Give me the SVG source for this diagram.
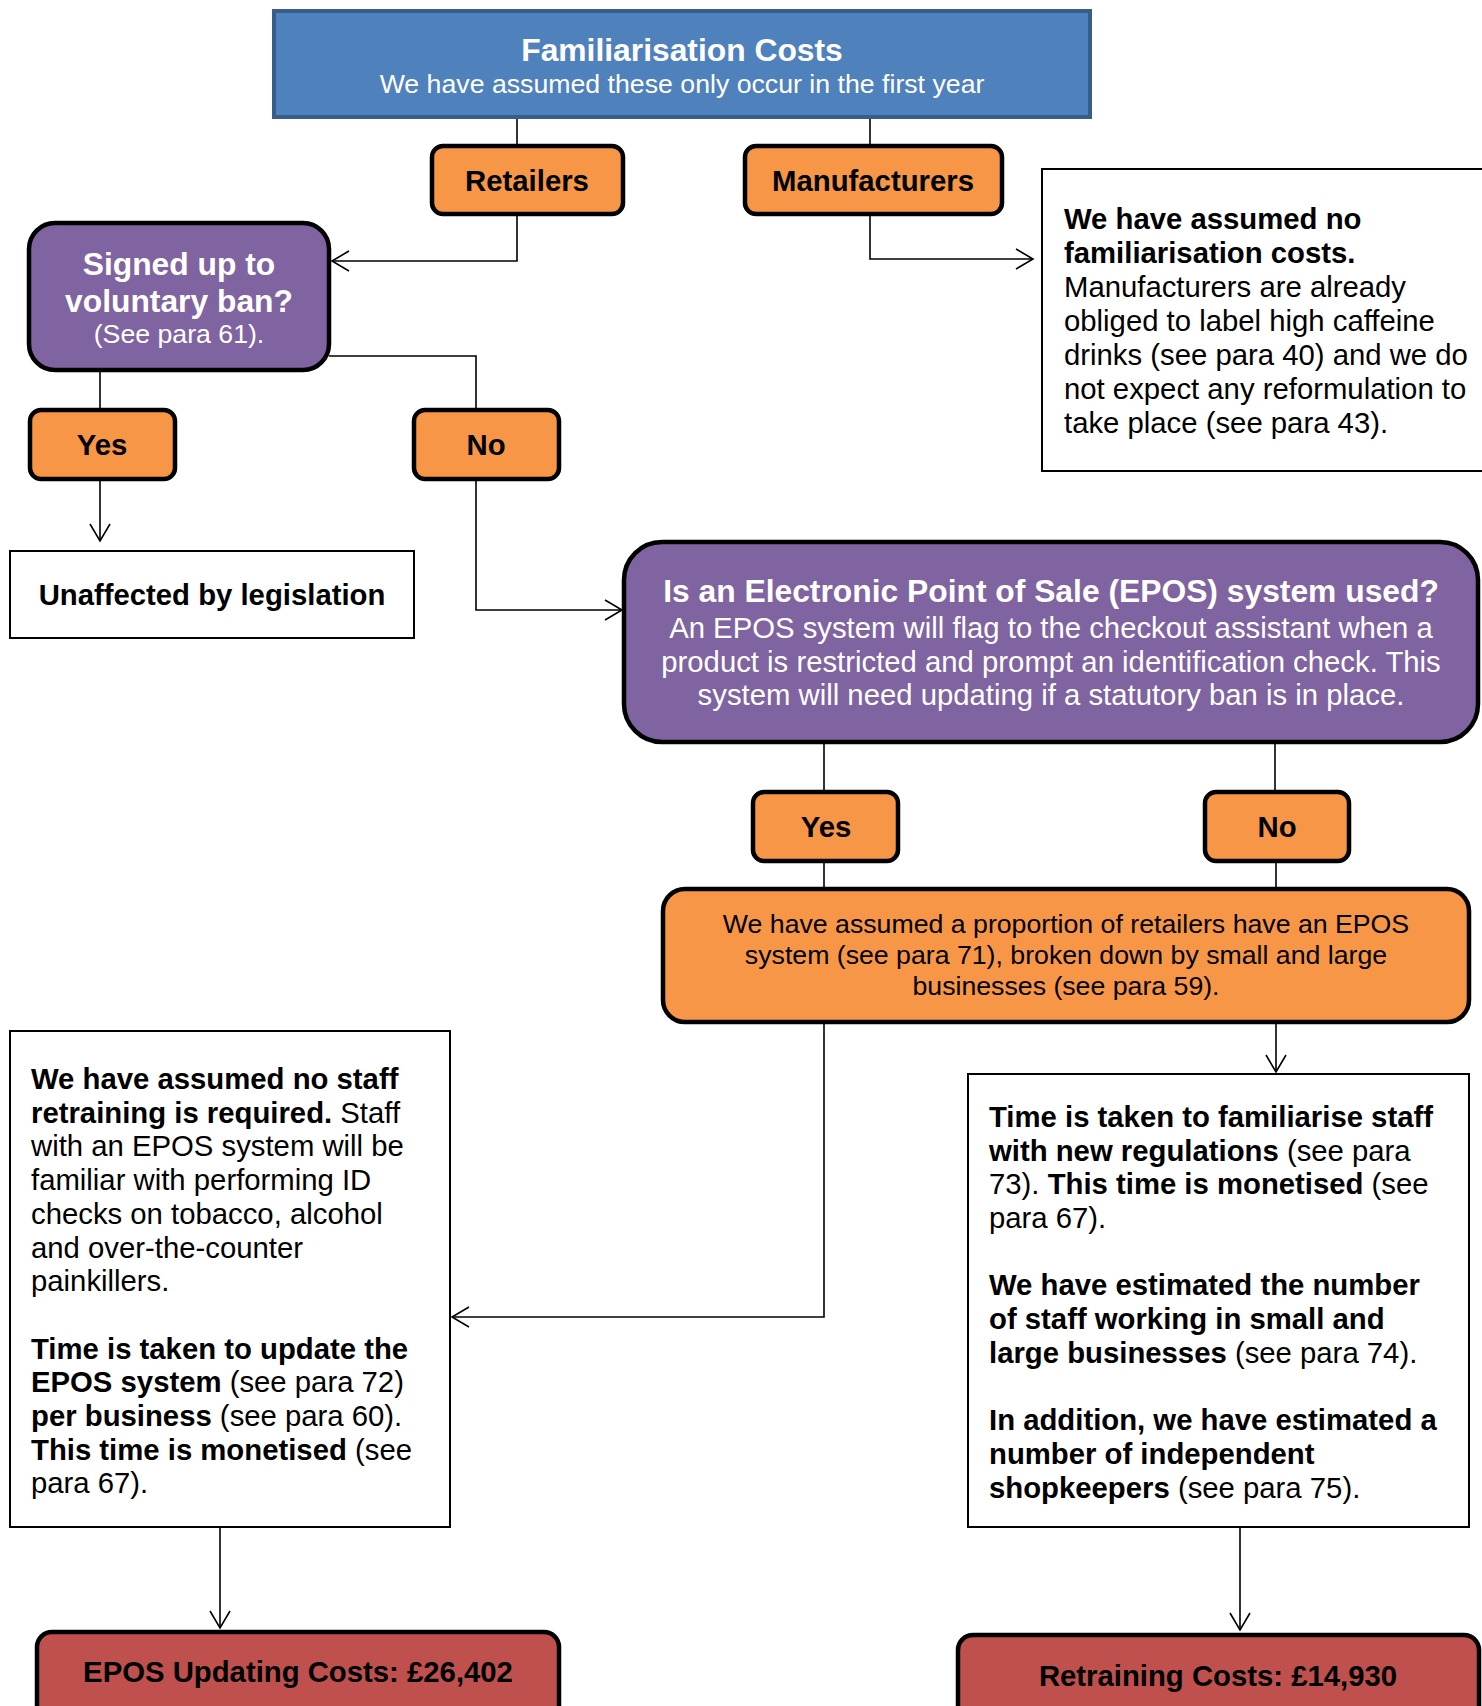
<svg xmlns="http://www.w3.org/2000/svg" width="1482" height="1706" viewBox="0 0 1482 1706">
<defs>
<style>
text{font-family:"Liberation Sans",Arial,sans-serif;fill:#000}
.b{font-weight:bold}
.w{fill:#fff}
.t12{font-size:29.3px}
.t11{font-size:26.7px}
.t13{font-size:31.8px}
.c{text-anchor:middle}
.blue{fill:#4F81BD;stroke:#385D8A;stroke-width:4}
.or{fill:#F79646;stroke:#000;stroke-width:4.5}
.pu{fill:#8064A2;stroke:#000;stroke-width:4.5}
.red{fill:#C0504D;stroke:#000;stroke-width:4.5}
.plain{fill:#fff;stroke:#000;stroke-width:2}
.con{fill:none;stroke:#000;stroke-width:1.6}
</style>
<marker id="arr" markerUnits="userSpaceOnUse" markerWidth="24" markerHeight="24" viewBox="-20 -12 24 24" refX="0" refY="0" orient="auto">
<path d="M-17,-10 L0,0 L-17,10" fill="none" stroke="#000" stroke-width="1.6"/>
</marker>
</defs>
<rect width="1482" height="1706" fill="#fff"/>

<g id="connectors">
<path class="con" d="M517,117 V146"/>
<path class="con" d="M870,117 V146"/>
<path class="con" d="M517,214 V261 H332" marker-end="url(#arr)"/>
<path class="con" d="M870,214 V259 H1033" marker-end="url(#arr)"/>
<path class="con" d="M329,356 H476 V410"/>
<path class="con" d="M100,370 V410"/>
<path class="con" d="M100,479 V541" marker-end="url(#arr)"/>
<path class="con" d="M476,479 V610 H622" marker-end="url(#arr)"/>
<path class="con" d="M824,742 V792"/>
<path class="con" d="M1275,742 V792"/>
<path class="con" d="M824,861 V889"/>
<path class="con" d="M1276,861 V889"/>
<path class="con" d="M824,1022 V1317 H452" marker-end="url(#arr)"/>
<path class="con" d="M1276,1022 V1072" marker-end="url(#arr)"/>
<path class="con" d="M220,1527 V1628" marker-end="url(#arr)"/>
<path class="con" d="M1240,1527 V1630" marker-end="url(#arr)"/>
</g>

<g id="familiarisation">
<rect class="blue" x="274" y="11" width="816" height="106"/>
<text class="t13 b w c" x="682" y="61">Familiarisation Costs</text>
<text class="t11 w c" x="682" y="93">We have assumed these only occur in the first year</text>
</g>

<g id="retailers">
<rect class="or" x="432" y="146" width="191" height="68" rx="11"/>
<text class="t12 b c" x="527" y="191">Retailers</text>
</g>

<g id="manufacturers">
<rect class="or" x="745" y="146" width="257" height="68" rx="11"/>
<text class="t12 b c" x="873" y="191">Manufacturers</text>
</g>

<g id="manufacturers-note">
<rect class="plain" x="1042" y="169" width="450" height="302"/>
<text class="t12" x="1064" y="229"><tspan class="b">We have assumed no</tspan></text>
<text class="t12" x="1064" y="263"><tspan class="b">familiarisation costs.</tspan></text>
<text class="t12" x="1064" y="297">Manufacturers are already</text>
<text class="t12" x="1064" y="331">obliged to label high caffeine</text>
<text class="t12" x="1064" y="365">drinks (see para 40) and we do</text>
<text class="t12" x="1064" y="399">not expect any reformulation to</text>
<text class="t12" x="1064" y="433">take place (see para 43).</text>
</g>

<g id="voluntary-ban">
<rect class="pu" x="29" y="223" width="300" height="147" rx="26"/>
<text class="t13 b w c" x="179" y="275">Signed up to</text>
<text class="t13 b w c" x="179" y="312">voluntary ban?</text>
<text class="t11 w c" x="179" y="343">(See para 61).</text>
</g>

<g id="yes1">
<rect class="or" x="30" y="410" width="145" height="69" rx="11"/>
<text class="t12 b c" x="102" y="455">Yes</text>
</g>

<g id="no1">
<rect class="or" x="414" y="410" width="145" height="69" rx="11"/>
<text class="t12 b c" x="486" y="455">No</text>
</g>

<g id="unaffected">
<rect class="plain" x="10" y="551" width="404" height="87"/>
<text class="t12 b c" x="212" y="605">Unaffected by legislation</text>
</g>

<g id="epos-question">
<rect class="pu" x="624" y="542" width="854" height="200" rx="38"/>
<text class="t13 b w c" x="1051" y="602">Is an Electronic Point of Sale (EPOS) system used?</text>
<text class="t12 w c" x="1051" y="638">An EPOS system will flag to the checkout assistant when a</text>
<text class="t12 w c" x="1051" y="672">product is restricted and prompt an identification check. This</text>
<text class="t12 w c" x="1051" y="705">system will need updating if a statutory ban is in place.</text>
</g>

<g id="yes2">
<rect class="or" x="753" y="792" width="145" height="69" rx="11"/>
<text class="t12 b c" x="826" y="837">Yes</text>
</g>

<g id="no2">
<rect class="or" x="1205" y="792" width="144" height="69" rx="11"/>
<text class="t12 b c" x="1277" y="837">No</text>
</g>

<g id="epos-proportion">
<rect class="or" x="663" y="889" width="806" height="133" rx="22"/>
<text class="t11 c" x="1066" y="933">We have assumed a proportion of retailers have an EPOS</text>
<text class="t11 c" x="1066" y="964">system (see para 71), broken down by small and large</text>
<text class="t11 c" x="1066" y="995">businesses (see para 59).</text>
</g>

<g id="no-retraining">
<rect class="plain" x="10" y="1031" width="440" height="496"/>
<text class="t12" x="31" y="1089"><tspan class="b">We have assumed no staff</tspan></text>
<text class="t12" x="31" y="1123"><tspan class="b">retraining is required.</tspan> Staff</text>
<text class="t12" x="31" y="1156">with an EPOS system will be</text>
<text class="t12" x="31" y="1190">familiar with performing ID</text>
<text class="t12" x="31" y="1224">checks on tobacco, alcohol</text>
<text class="t12" x="31" y="1258">and over-the-counter</text>
<text class="t12" x="31" y="1291">painkillers.</text>
<text class="t12" x="31" y="1359"><tspan class="b">Time is taken to update the</tspan></text>
<text class="t12" x="31" y="1392"><tspan class="b">EPOS system</tspan> (see para 72)</text>
<text class="t12" x="31" y="1426"><tspan class="b">per business</tspan> (see para 60).</text>
<text class="t12" x="31" y="1460"><tspan class="b">This time is monetised</tspan> (see</text>
<text class="t12" x="31" y="1493">para 67).</text>
</g>

<g id="retraining-note">
<rect class="plain" x="968" y="1074" width="501" height="453"/>
<text class="t12" x="989" y="1127"><tspan class="b">Time is taken to familiarise staff</tspan></text>
<text class="t12" x="989" y="1161"><tspan class="b">with new regulations</tspan> (see para</text>
<text class="t12" x="989" y="1194">73). <tspan class="b">This time is monetised</tspan> (see</text>
<text class="t12" x="989" y="1228">para 67).</text>
<text class="t12" x="989" y="1295"><tspan class="b">We have estimated the number</tspan></text>
<text class="t12" x="989" y="1329"><tspan class="b">of staff working in small and</tspan></text>
<text class="t12" x="989" y="1363"><tspan class="b">large businesses</tspan> (see para 74).</text>
<text class="t12" x="989" y="1430"><tspan class="b">In addition, we have estimated a</tspan></text>
<text class="t12" x="989" y="1464"><tspan class="b">number of independent</tspan></text>
<text class="t12" x="989" y="1498"><tspan class="b">shopkeepers</tspan> (see para 75).</text>
</g>

<g id="epos-cost">
<rect class="red" x="37" y="1632" width="522" height="100" rx="15"/>
<text class="t12 b c" x="298" y="1682">EPOS Updating Costs: £26,402</text>
</g>

<g id="retraining-cost">
<rect class="red" x="958" y="1635" width="521" height="100" rx="15"/>
<text class="t12 b c" x="1218" y="1686">Retraining Costs: £14,930</text>
</g>
</svg>
